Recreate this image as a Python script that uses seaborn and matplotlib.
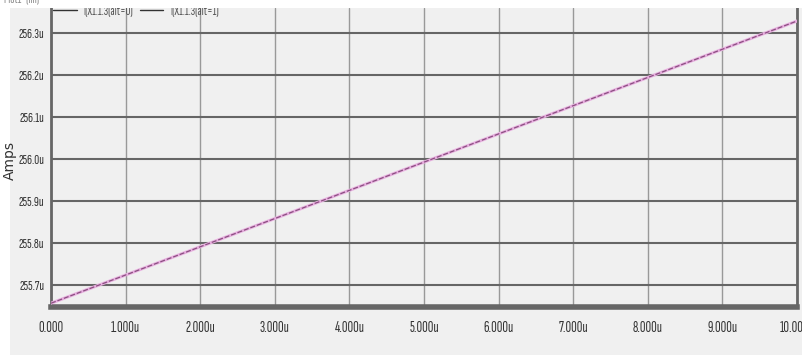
import matplotlib
matplotlib.use("Agg")
import pandas as pd
import matplotlib.pyplot as plt
import seaborn as sns
from matplotlib.lines import Line2D
from matplotlib.ticker import FixedLocator, FuncFormatter, MultipleLocator

# === datos (tiempo en u, corriente en uA) ===
time_us = [0.0, 10.0]
amps_alt0 = [255.657, 256.329]
amps_alt1 = [255.657, 256.329]
series_names = ["I(X1.1.3(alt=0)", "I(X1.1.3(alt=1)"]
y_ticks = [255.7, 255.8, 255.9, 256.0, 256.1, 256.2, 256.3]
x_ticks = [0, 1, 2, 3, 4, 5, 6, 7, 8, 9, 10]

df = pd.DataFrame({
    "t": time_us + time_us,
    "I": amps_alt0 + amps_alt1,
    "serie": [series_names[0]] * len(time_us) + [series_names[1]] * len(time_us),
})

sns.set_style("white")
plt.rcParams["font.family"] = ["Sofia Sans Extra Condensed", "DejaVu Sans"]

fig = plt.figure(figsize=(8.02, 3.55), dpi=100, facecolor="white")
# fondo gris de la ventana
fig.patches.append(plt.Rectangle((10 / 802, 0), 1, 1, transform=fig.transFigure,
                                 facecolor="#f0f0f0", edgecolor="none", zorder=-10))
ax = fig.add_axes([51 / 802, 1 - 307 / 355, 746 / 802, 299 / 355])
ax.set_facecolor("#f0f0f0")

sns.lineplot(data=df[df.serie == series_names[0]], x="t", y="I", ax=ax,
             color="#e8b0e0", linewidth=2.2, zorder=3)
sns.lineplot(data=df[df.serie == series_names[1]], x="t", y="I", ax=ax,
             color="#8a4f80", linewidth=0.9, linestyle=(0, (4, 1.5)), zorder=4)

ax.set_xlim(0, 10)
ax.set_ylim(255.648, 256.36)

ax.xaxis.set_major_locator(FixedLocator(x_ticks))
ax.xaxis.set_minor_locator(MultipleLocator(0.2))
ax.yaxis.set_major_locator(FixedLocator(y_ticks))
ax.yaxis.set_minor_locator(MultipleLocator(0.05))
ax.xaxis.set_major_formatter(FuncFormatter(lambda v, p: "0.000" if v == 0 else f"{v:.3f}u"))
ax.yaxis.set_major_formatter(FuncFormatter(lambda v, p: f"{v:.1f}u"))

ax.tick_params(axis="x", which="major", direction="out", length=6, width=1, color="#555",
               labelsize=11, labelcolor="#333", pad=4)
ax.tick_params(axis="x", which="minor", direction="in", length=6, width=1, color="#555")
ax.tick_params(axis="y", which="major", direction="out", length=4, width=1, color="#555",
               labelsize=10, labelcolor="#333", pad=1)
ax.tick_params(axis="y", which="minor", direction="in", length=4, width=1, color="#555")

ax.grid(True, axis="y", which="major", color="#666", linewidth=1.5, zorder=1)
ax.grid(True, axis="x", which="major", color="#999", linewidth=1.0, zorder=1)
ax.set_axisbelow(True)

ax.spines["top"].set_visible(False)
ax.spines["left"].set_color("#666")
ax.spines["left"].set_linewidth(2)
ax.spines["right"].set_color("#666")
ax.spines["right"].set_linewidth(2)
ax.spines["bottom"].set_color("#666")
ax.spines["bottom"].set_linewidth(4)

ax.set_xlabel("")
ax.set_ylabel("Amps", fontsize=10, color="#333", family=["DejaVu Sans"])
ax.yaxis.set_label_coords((17 - 51) / 746, (307 - 160) / 299)

# leyenda recortada arriba por la franja blanca
handles = [Line2D([0], [0], color="#333", lw=1), Line2D([0], [0], color="#333", lw=1)]
leg = fig.legend(handles, series_names, loc="center left", bbox_to_anchor=(53 / 802, 1 - 11 / 355),
                 ncol=2, frameon=False, fontsize=9.5, handlelength=1.8, borderpad=0,
                 borderaxespad=0, columnspacing=0.5, labelcolor="#555", handletextpad=0.5)
leg.set_zorder(5)
fig.patches.append(plt.Rectangle((0, 1 - 8 / 355), 1, 8 / 355, transform=fig.transFigure,
                                 facecolor="white", edgecolor="none", zorder=20))
t = fig.text(4 / 802, 1.0, "Plot1   (lin)", fontsize=9, color="#888", va="center", ha="left")
t.set_zorder(21)

fig.savefig("out.png", dpi=100, facecolor=fig.get_facecolor())
